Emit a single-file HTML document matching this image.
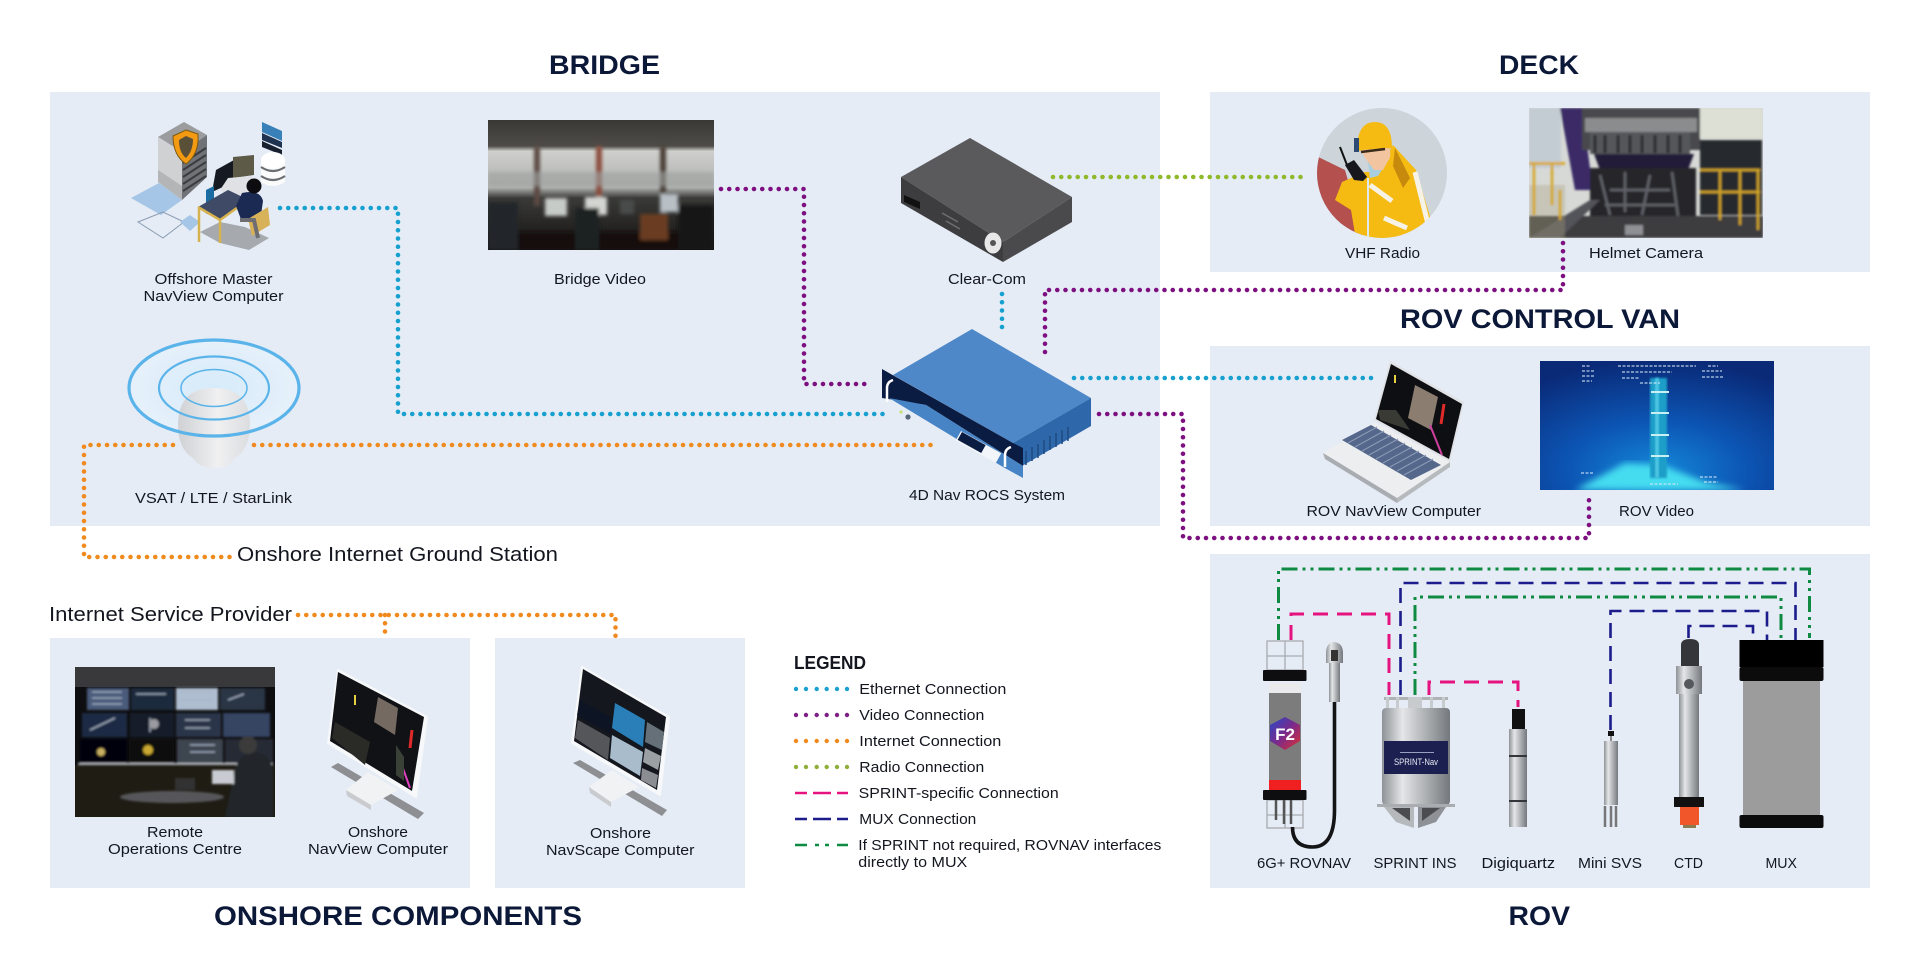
<!DOCTYPE html>
<html><head><meta charset="utf-8"><style>
html,body{margin:0;padding:0;background:#fff;width:1920px;height:980px;overflow:hidden}
svg{display:block}
text{font-family:"Liberation Sans",sans-serif;fill:#14161f}
.l{font-size:15px}
.t{font-size:27px;font-weight:700;fill:#0c1838}
.b{font-size:20px}
.d{fill:none;stroke-linecap:round;stroke-width:4.6;stroke-dasharray:0 8.25;stroke-linejoin:round}
.e{stroke:#16a0cf}.v{stroke:#7d0f80}.i{stroke:#f08a1e}.r{stroke:#8fb92b}
.m{fill:none;stroke:#e5137f;stroke-width:3;stroke-dasharray:15 9}
.n{fill:none;stroke:#1c1c8c;stroke-width:2.6;stroke-dasharray:15 8}
.h{fill:none;stroke:#0f8a43;stroke-width:3;stroke-dasharray:16 5 3 5 3 5}
</style></head><body>
<svg width="1920" height="980" viewBox="0 0 1920 980" xmlns="http://www.w3.org/2000/svg">
<defs>
<filter id="b1" x="-5%" y="-5%" width="110%" height="110%"><feGaussianBlur stdDeviation="1"/></filter>
<filter id="b2" x="-5%" y="-5%" width="110%" height="110%"><feGaussianBlur stdDeviation="1.8"/></filter>
<filter id="b3" x="-10%" y="-10%" width="120%" height="120%"><feGaussianBlur stdDeviation="3.5"/></filter>
<linearGradient id="metal" x1="0" x2="1" y1="0" y2="0"><stop offset="0" stop-color="#8e9296"/><stop offset=".3" stop-color="#e4e6e8"/><stop offset=".6" stop-color="#b4b7ba"/><stop offset="1" stop-color="#74787c"/></linearGradient>
<linearGradient id="dome" x1="0" x2="1" y1="0" y2="0"><stop offset="0" stop-color="#cfd1d4"/><stop offset=".55" stop-color="#f0f0f1"/><stop offset="1" stop-color="#dcdde0"/></linearGradient>
<linearGradient id="f2" x1="0" x2="1" y1="0" y2="1"><stop offset="0" stop-color="#2749c8"/><stop offset=".5" stop-color="#7a2a8c"/><stop offset="1" stop-color="#e0302e"/></linearGradient>
<radialGradient id="sea" cx=".5" cy=".85" r=".85"><stop offset="0" stop-color="#1488d8"/><stop offset=".45" stop-color="#0c55b4"/><stop offset="1" stop-color="#0a2a78"/></radialGradient>
<radialGradient id="glow" cx=".5" cy=".5" r=".5"><stop offset="0" stop-color="#d6ebfa"/><stop offset="1" stop-color="#e6f0fa"/></radialGradient>
<linearGradient id="bridgebg" x1="0" x2="0" y1="0" y2="1"><stop offset="0" stop-color="#3a3835"/><stop offset=".2" stop-color="#4e4c48"/><stop offset=".24" stop-color="#cfd0cd"/><stop offset=".52" stop-color="#aeb0ad"/><stop offset=".6" stop-color="#3a3a38"/><stop offset="1" stop-color="#141212"/></linearGradient>
<clipPath id="vhf"><circle cx="1382" cy="173" r="65"/></clipPath>
<clipPath id="pb"><rect x="488" y="120" width="226" height="130"/></clipPath>
<clipPath id="ph"><rect x="1529" y="108" width="234" height="130"/></clipPath>
<clipPath id="pr"><rect x="1540" y="361" width="234" height="129"/></clipPath>
<clipPath id="po"><rect x="75" y="667" width="200" height="150"/></clipPath>
</defs>

<!-- panels -->
<g fill="#e5ecf6">
<rect x="50" y="92" width="1110" height="434"/>
<rect x="1210" y="92" width="660" height="180"/>
<rect x="1210" y="346" width="660" height="180"/>
<rect x="1210" y="554" width="660" height="334"/>
<rect x="50" y="638" width="420" height="250"/>
<rect x="495" y="638" width="250" height="250"/>
</g>

<!-- server illustration -->
<g>
<polygon points="131,198 159,183 182,200 161,215" fill="#a5c6e6"/>
<polygon points="138,222 163,212 184,222 163,238" fill="none" stroke="#8a9bb0" stroke-width="1"/>
<polygon points="180,222 190,215 200,222 190,231" fill="#a5c6e6"/>
<polygon points="200,232 220,222 245,227 269,238 249,250 220,243" fill="#a6aaaf"/>
<polygon points="158,137 184,122 207,135 182,152" fill="#9a9c9e"/>
<polygon points="158,137 182,152 182,200 158,182" fill="#cfd1d3"/>
<polygon points="182,152 207,135 207,177 182,200" fill="#6f7276"/>
<path d="M183 163l23-15M183 170l23-15M183 177l23-15M183 184l23-15M183 191l23-15" stroke="#3a3c40" stroke-width="2"/>
<polygon points="158,170 182,186 182,200 158,182" fill="#b3b5b7"/>
<path d="M186 130l12 4c1 14-4 24-12 30c-9-6-13-16-13-28z" fill="#f29a12" stroke="#7d5a10" stroke-width="1"/>
<path d="M186 136l7 3c0 9-3 15-7 19c-5-4-7-10-7-18z" fill="#5a5038"/>
<polygon points="262,122 282,131 282,141 262,132" fill="#3a80b8"/>
<polygon points="262,133 282,142 282,148 262,140" fill="#1f3350"/>
<polygon points="262,141 282,150 282,155 262,147" fill="#16202f"/>
<path d="M261 160v22q12 8 24 0v-22z" fill="#fbfbfc"/><ellipse cx="273" cy="160" rx="12" ry="8" fill="#fff"/>
<path d="M261 167q12 8 24 0M261 176q12 8 24 0" stroke="#6a6d72" stroke-width="2.2" fill="none"/>
<polygon points="216,170 234,160 234,182 212,192" fill="#151a22"/>
<polygon points="233,157 254,155 254,175 233,178" fill="#5d5a48"/>
<polygon points="220,190 228,178 252,176 250,190 232,198" fill="#dfe1e5"/>
<polygon points="206,190 214,186 214,210 206,214" fill="#1c6ca4"/>
<polygon points="198,207 228,190 249,200 220,220" fill="#3e4a66"/>
<path d="M199 208v34M220 221v22M198 207l22 13l28-20" stroke="#d6b24e" stroke-width="2.5" fill="none"/>
<path d="M242 193q18-4 21 8l-3 21l-18 0l-6-16z" fill="#1b2a52"/>
<circle cx="254" cy="186" r="7.5" fill="#0d0d10"/>
<polygon points="248,219 268,207 270,225 252,236" fill="#d8b258"/>
<path d="M240 220h14l4 18" stroke="#6e6e72" stroke-width="4" fill="none"/>
</g>

<!-- bridge video -->
<g clip-path="url(#pb)">
<rect x="488" y="120" width="226" height="130" fill="url(#bridgebg)"/>
<g filter="url(#b2)">
<rect x="534" y="146" width="6" height="60" fill="#5b4a42"/><rect x="596" y="146" width="6" height="66" fill="#8b4d3d"/>
<rect x="660" y="146" width="6" height="70" fill="#4a3e36"/>
<rect x="488" y="172" width="226" height="14" fill="#9ea2a0" opacity=".6"/>
<rect x="488" y="232" width="226" height="18" fill="#121010"/>
<rect x="545" y="198" width="22" height="18" fill="#c7cbc7"/><rect x="585" y="197" width="22" height="18" fill="#d4d6d2"/><rect x="660" y="194" width="18" height="18" fill="#b8c0c6"/>
<rect x="620" y="200" width="14" height="14" fill="#4a4c4c"/>
<rect x="488" y="202" width="30" height="48" fill="#24262a"/><rect x="575" y="208" width="24" height="42" fill="#1e2024"/>
<rect x="640" y="214" width="28" height="26" fill="#6a3e22"/><rect x="678" y="205" width="36" height="45" fill="#141518"/>
</g>
</g>

<!-- clear-com -->
<polygon points="901,177 970,138 1072,197 1003,242" fill="#5a5a5c"/>
<polygon points="901,177 1003,242 1003,262 901,203" fill="#3d3d3f"/>
<polygon points="1003,242 1072,197 1072,222 1003,262" fill="#4a4a4c"/>
<polygon points="904,195 920,202 920,209 904,202" fill="#111"/>
<path d="M942 213l16 9M946 221l14 8" stroke="#6f6f70" stroke-width="1.5"/>
<ellipse cx="993" cy="243" rx="8.5" ry="10.5" fill="#e8e8e8"/><circle cx="993" cy="243" r="3" fill="#555"/>

<!-- 4D Nav -->
<polygon points="972,329 1091,398 1013,443 893,375" fill="#4e88c9"/>
<polygon points="1091,398 1091,426 1022,466 1013,443" fill="#2f68aa"/>
<polygon points="882,369 1013,443 1023,448 1023,466 926,405 882,398" fill="#0b1c42"/>
<polygon points="889,398 926,405 1023,466 1023,478 1003,467" fill="#4784c6"/>
<path d="M1026 451v14M1032 447v14M1038 444v14M1044 440v14M1050 436v14M1056 433v14M1062 430v14M1068 427v14" stroke="#1e4a82" stroke-width="1.5"/>
<rect x="961" y="431" width="46" height="11" transform="rotate(29 961 431)" fill="#f2f5fa"/>
<rect x="962" y="432" width="27" height="9" transform="rotate(29 962 432)" fill="#0b1c42"/>
<path d="M893 380q-6 2-6 8v14M1011 447q-6 2-6 8v12" stroke="#fff" stroke-width="2.5" fill="none"/>
<circle cx="901" cy="412" r="1.6" fill="#c8e070"/><circle cx="908" cy="417" r="2.6" fill="#567"/>

<!-- antenna -->
<ellipse cx="214" cy="388" rx="85" ry="48" fill="url(#glow)"/>
<path d="M178 425q0-37 36-37q36 0 36 37q0 24-15 33q-6 10-21 10q-15 0-21-10q-15-9-15-33z" fill="url(#dome)"/>
<g fill="none" stroke="#5ab4ea">
<ellipse cx="214" cy="388" rx="85" ry="48" stroke-width="3.2"/>
<ellipse cx="214" cy="388" rx="55" ry="31.5" stroke-width="2.2"/>
<ellipse cx="214" cy="388" rx="33" ry="18.5" stroke-width="1.5"/>
</g>

<!-- VHF -->
<circle cx="1382" cy="173" r="65" fill="#cdd5da"/>
<g clip-path="url(#vhf)">
<polygon points="1310,153 1345,170 1365,240 1310,240" fill="#b4504e"/>
<polygon points="1342,182 1365,172 1378,172 1393,145 1416,170 1432,223 1422,240 1356,240 1351,210 1335,200" fill="#f5bb13"/>
<path d="M1368 178v62" stroke="#dfe8f0" stroke-width="2"/>
<path d="M1370 185l22 16M1384 218l23 10M1415 172l13 52" stroke="#f6f3e6" stroke-width="5" fill="none"/>
<polygon points="1368,162 1380,160 1388,160 1378,176 1370,178" fill="#a8cfe0"/>
<path d="M1395 148l15 30l-7 10l-10-22z" fill="#c78a0c"/>
</g>
<path d="M1357 150q0-28 18-28q17 0 17 26l-3 1l-30 2z" fill="#f5bb13"/>
<path d="M1361 150l28-2q3 8-1 13l-5 9h-9l-9-12z" fill="#f3c4a0"/>
<rect x="1354" y="138" width="5" height="14" fill="#2c4a74"/>
<path d="M1361 152l24-3" stroke="#3a2a1a" stroke-width="2.5"/>
<path d="M1340 147l7 18" stroke="#111" stroke-width="2"/>
<polygon points="1345,165 1354,160 1367,177 1363,181 1354,180" fill="#15171c"/>

<!-- helmet camera -->
<g clip-path="url(#ph)">
<rect x="1529" y="108" width="234" height="130" fill="#d7d9d6"/>
<g filter="url(#b1)">
<rect x="1529" y="108" width="32" height="60" fill="#c3ccd2"/>
<polygon points="1560,108 1582,108 1593,190 1575,190" fill="#3a2a66"/>
<rect x="1582" y="108" width="118" height="42" fill="#4a4a4e"/>
<rect x="1585" y="118" width="112" height="14" fill="#8a8c8e"/>
<rect x="1590" y="132" width="100" height="22" fill="#55565a"/>
<path d="M1595 135v18M1605 135v18M1618 135v18M1630 135v18M1642 135v18M1655 135v18M1668 135v18M1680 135v18" stroke="#2a2b2e" stroke-width="3"/>
<polygon points="1594,154 1694,154 1688,170 1600,170" fill="#211d38"/>
<rect x="1590" y="168" width="106" height="54" fill="#26262c"/>
<path d="M1600 175l10 40M1625 172v40M1650 175l-8 40M1672 172l6 44M1610 190h60M1605 205h70" stroke="#62646a" stroke-width="2.5" fill="none"/>
<rect x="1700" y="108" width="62" height="30" fill="#dde0d4"/>
<rect x="1700" y="140" width="62" height="75" fill="#282a2e"/>
<rect x="1529" y="216" width="234" height="22" fill="#3c3c40"/>
<polygon points="1529,238 1560,238 1600,200 1590,200" fill="#52525a"/>
<rect x="1529" y="162" width="36" height="3" fill="#d8a92a"/><rect x="1529" y="185" width="36" height="60" fill="#a9a07a" opacity=".35"/>
<path d="M1534 165v50M1552 165v40M1560 190v30" stroke="#d5a525" stroke-width="2.5"/>
<path d="M1700 170h60M1700 192h60M1720 170v50M1740 170v55M1758 170v60" stroke="#d0a426" stroke-width="2.5" fill="none"/>
<rect x="1625" y="225" width="18" height="10" fill="#8f9094"/>
</g>
</g>

<!-- laptop -->
<polygon points="1323,453 1374,422 1450,462 1397,498" fill="#eceef0"/>
<polygon points="1323,453 1397,498 1397,503 1325,459" fill="#a9adb1"/>
<polygon points="1397,498 1450,462 1450,467 1397,503" fill="#b7babd"/>
<polygon points="1342,440 1371,425 1441,465 1411,480" fill="#55678a"/>
<path d="M1348 443l29-16M1355 447l29-16M1362 451l29-16M1369 455l29-16M1376 459l29-16M1383 463l29-16M1390 467l29-16M1397 471l29-16M1404 475l29-16" stroke="#8c9cb8" stroke-width="1"/>
<polygon points="1390,361 1464,402 1450,462 1374,420" fill="#e0e2e5"/>
<polygon points="1391,364 1462,404 1449,459 1376,419" fill="#0e0f12"/>
<polygon points="1415,385 1438,397 1431,430 1408,418" fill="#8b7d70"/>
<polygon points="1378,410 1396,410 1410,430 1380,420" fill="#3a3a34"/>
<path d="M1444 404l-3 20" stroke="#e02a2a" stroke-width="3"/><path d="M1430 425l12 30" stroke="#d040a0" stroke-width="2"/>
<path d="M1395 375v8" stroke="#e7d040" stroke-width="2"/>

<!-- rov video -->
<g clip-path="url(#pr)">
<rect x="1540" y="361" width="234" height="129" fill="url(#sea)"/>
<polygon points="1575,490 1625,463 1662,465 1705,482 1745,490" fill="#45dcf0" filter="url(#b3)"/>
<rect x="1650" y="378" width="17" height="100" fill="#1f9ec8" filter="url(#b1)"/>
<rect x="1655" y="378" width="4" height="100" fill="#4fc6e4" filter="url(#b1)"/>
<g fill="#c8f0f4"><rect x="1651" y="391" width="18" height="2"/><rect x="1651" y="412" width="18" height="2"/><rect x="1651" y="434" width="18" height="2"/><rect x="1651" y="455" width="18" height="2"/></g>
<g stroke="#d5e8f8" stroke-width="1.2" stroke-dasharray="3 1.5" opacity=".85">
<path d="M1582 366h8M1582 371h12M1582 376h12M1582 381h10M1618 366h78M1622 372h50M1622 378h18M1640 383h20M1708 366h10M1702 371h20M1702 377h22M1581 473h13M1700 477h18M1704 482h14M1650 484h28"/>
</g>
</g>

<!-- remote ops -->
<g clip-path="url(#po)">
<rect x="75" y="667" width="200" height="150" fill="#0e0e10"/>
<rect x="75" y="667" width="200" height="20" fill="#39393b"/>
<rect x="75" y="765" width="200" height="52" fill="#1f1c14"/>
<g filter="url(#b1)">
<rect x="87" y="688" width="42" height="22" fill="#4a5a7a"/><rect x="131" y="688" width="43" height="22" fill="#1a2a3e"/><rect x="176" y="688" width="42" height="22" fill="#aebdd0"/><rect x="220" y="688" width="45" height="22" fill="#2c3444"/>
<rect x="82" y="713" width="45" height="24" fill="#1e2c44"/><rect x="130" y="713" width="44" height="24" fill="#141c2c"/><rect x="176" y="713" width="45" height="24" fill="#2a3548"/><rect x="223" y="713" width="47" height="24" fill="#364562"/>
<rect x="80" y="739" width="47" height="24" fill="#06060a"/><rect x="129" y="739" width="45" height="24" fill="#0a0a0c"/><rect x="177" y="739" width="46" height="24" fill="#3c4450"/><rect x="225" y="739" width="48" height="24" fill="#262c34"/>
<rect x="78" y="763" width="195" height="2" fill="#b8bcc0"/>
<path d="M92 692h30M92 698h30M92 704h30M180 692h32M180 700h32M136 694h30M228 700l16-6M90 730l25-12M150 718v14M185 720h25M185 728h25M190 745h25M190 752h25" stroke="#a8b4c6" stroke-width="1.3" fill="none"/>
<circle cx="101" cy="752" r="4" fill="#c8b060"/><circle cx="148" cy="750" r="5" fill="#c8a830"/><circle cx="154" cy="724" r="5" fill="#9a9aa0"/>
<ellipse cx="172" cy="797" rx="52" ry="6" fill="#57565a"/>
<path d="M225 817l10-45q3-20 20-20q18 2 18 22v43z" fill="#22262c"/>
<circle cx="248" cy="745" r="9" fill="#3a3a3a"/>
<rect x="212" y="770" width="22" height="14" fill="#c8ccd2"/>
<rect x="175" y="778" width="20" height="12" fill="#333"/>
</g>
</g>

<!-- onshore monitors -->
<polygon points="331,767 338,763 424,813 418,819" fill="#8d8f92"/>
<polygon points="346,790 368,772 398,790 371,805" fill="#f1f2f3"/>
<polygon points="346,790 371,805 371,810 347,796" fill="#c9cbce"/>
<polygon points="338,670 427,717 416,797 328,743" fill="#f7f8f9" stroke="#f7f8f9" stroke-width="2" stroke-linejoin="round"/>
<polygon points="338,672 424,717 412,791 330,741" fill="#101216"/>
<polygon points="378,697 398,708 395,735 374,722" fill="#756a62"/>
<polygon points="335,722 370,742 365,765 332,738" fill="#2a2a26"/>
<path d="M412 730l-2 18" stroke="#e02a2a" stroke-width="3"/><path d="M400 760l10 28" stroke="#e040c0" stroke-width="2"/>
<path d="M396 745l8 12v24l-8-6z" fill="#3a4238"/>
<path d="M355 695v10" stroke="#e7d040" stroke-width="2"/>

<polygon points="573,763 580,760 667,810 662,816" fill="#8d8f92"/>
<polygon points="589,787 612,770 639,787 611,802" fill="#f1f2f3"/>
<polygon points="589,787 611,802 611,807 590,793" fill="#c9cbce"/>
<polygon points="582,667 669,717 660,795 572,743" fill="#f7f8f9" stroke="#f7f8f9" stroke-width="2" stroke-linejoin="round"/>
<polygon points="583,669 666,717 657,790 574,741" fill="#14171e"/>
<polygon points="615,703 645,720 643,747 612,728" fill="#2a7fb8"/>
<polygon points="580,700 612,718 610,733 577,715" fill="#0d1424"/>
<polygon points="578,720 610,738 608,760 575,738" fill="#55565a"/>
<polygon points="612,735 643,752 640,776 610,758" fill="#a8bccc"/>
<polygon points="647,722 664,732 662,750 645,742" fill="#667078"/>
<polygon points="645,748 661,756 658,770 643,762" fill="#9aa0a4"/>
<polygon points="642,768 658,775 656,788 641,780" fill="#8a8e92"/>

<!-- ROV devices -->
<g fill="none" stroke="#a8abb0" stroke-width="1.3">
<rect x="1267" y="641" width="36" height="29"/><path d="M1285 641v29M1267 656h36"/>
<rect x="1267" y="800" width="36" height="28"/><path d="M1285 800v28M1267 815h36"/>
</g>
<rect x="1263" y="670" width="43.5" height="11" rx="1" fill="#0e0e10"/>
<rect x="1269" y="683" width="32" height="10" fill="#eaeaec"/>
<rect x="1269" y="693" width="32" height="87" fill="#7c7c7c"/>
<rect x="1269" y="780" width="32" height="10" fill="#f02020"/>
<rect x="1263" y="790" width="43.5" height="10" rx="1" fill="#0e0e10"/>
<path d="M1276 800v20M1284 800v24M1291 800v24" stroke="#555" stroke-width="2.5"/>
<polygon points="1285,717 1300,725 1300,741 1285,750 1270,741 1270,725" fill="url(#f2)"/>
<text x="1285" y="740" text-anchor="middle" font-size="17" font-weight="700" style="fill:#fff">F2</text>
<path d="M1334.5 702V810q0 37-22 37q-20 0-20-20" fill="none" stroke="#141416" stroke-width="3.6"/>
<path d="M1326 663l0-10q0-10 8-11q9 1 9 11l0 10z" fill="url(#metal)"/>
<rect x="1331" y="650" width="7" height="11" fill="#333"/>
<rect x="1329" y="663" width="11" height="39" fill="url(#metal)"/>

<rect x="1384" y="697" width="64" height="3" fill="#b0b3b6"/>
<g fill="#c8cbce"><rect x="1386" y="697" width="3" height="12"/><rect x="1396" y="697" width="3" height="12"/><rect x="1408" y="697" width="14" height="12"/><rect x="1430" y="697" width="3" height="12"/><rect x="1442" y="697" width="3" height="12"/></g>
<rect x="1382" y="708" width="68" height="97" rx="4" fill="url(#metal)"/>
<rect x="1384" y="741" width="64" height="33" fill="#1b2050"/>
<text x="1416" y="765" text-anchor="middle" font-size="9" style="fill:#e8eaf4" textLength="44" lengthAdjust="spacingAndGlyphs">SPRINT-Nav</text>
<rect x="1400" y="752" width="34" height="1" fill="#9aa0c0"/>
<rect x="1377" y="804" width="78" height="3" fill="#a9acb0"/>
<polygon points="1384,807 1414,807 1414,828 1396,822" fill="#b6b9bc"/>
<polygon points="1418,807 1446,807 1436,822 1418,828" fill="#8e9195"/>
<polygon points="1392,808 1410,808 1410,821" fill="#4a4c50"/><polygon points="1422,808 1440,808 1422,821" fill="#4a4c50"/>

<rect x="1512" y="709" width="13" height="20" fill="#111"/>
<rect x="1509" y="729" width="18" height="98" fill="url(#metal)"/>
<rect x="1509" y="755" width="18" height="2" fill="#33353a"/><rect x="1509" y="800" width="18" height="2" fill="#33353a"/>

<rect x="1608" y="731" width="6" height="5" fill="#111"/>
<rect x="1610" y="736" width="2" height="5" fill="#888"/>
<rect x="1604" y="741" width="14" height="64" fill="url(#metal)"/>
<path d="M1605 806v21M1611 806v21M1616 806v21" stroke="#777" stroke-width="2.5"/>

<path d="M1681 645q0-6 9-6q9 0 9 6v21h-18z" fill="#34363a"/>
<rect x="1676" y="666" width="26" height="28" fill="url(#metal)"/>
<rect x="1679" y="694" width="20" height="103" fill="url(#metal)"/>
<circle cx="1689" cy="684" r="5" fill="#55585c"/>
<rect x="1674" y="797" width="30" height="10" fill="#111"/>
<rect x="1680" y="807" width="19" height="18" fill="#f0562a"/>
<rect x="1683" y="825" width="13" height="3" fill="#8a7a50"/>

<rect x="1743" y="681" width="77" height="134" fill="#9c9c9c"/>
<rect x="1739.5" y="640" width="84" height="27" fill="#000"/>
<rect x="1739.5" y="667" width="84" height="14" rx="2" fill="#0c0c0c"/>
<rect x="1739.5" y="815" width="84" height="13" rx="2" fill="#0c0c0c"/>

<!-- dotted connectors -->
<path class="d e" d="M280 208H398V414H885"/>
<path class="d v" d="M721 189H804V384H871"/>
<path class="d r" d="M1053 177H1308"/>
<path class="d v" d="M1563 243V290H1045V357"/>
<path class="d e" d="M1002 294V335"/>
<path class="d e" d="M1074 378H1377"/>
<path class="d v" d="M1099 414H1183V538H1589V498"/>
<path class="d i" d="M173 445H84V557H233"/>
<path class="d i" d="M254 445H937"/>
<path class="d i" d="M298 615H615.5V638"/>
<path class="d i" d="M385 615V638"/>

<!-- ROV connectors -->
<path class="h" d="M1278.5 640V569H1809.5V638"/>
<path class="m" d="M1291 640V614H1389V695"/>
<path class="n" d="M1400.5 695V583H1795.5V640"/>
<path class="h" d="M1415 695V597H1781V640"/>
<path class="n" d="M1610.5 730V611H1767V640"/>
<path class="n" d="M1688.5 638V626H1753V640"/>
<path class="m" d="M1429 695V682H1518V707"/>

<!-- titles -->
<text class="t" x="549" y="74" textLength="111" lengthAdjust="spacingAndGlyphs">BRIDGE</text>
<text class="t" x="1499" y="74" textLength="80" lengthAdjust="spacingAndGlyphs">DECK</text>
<text class="t" x="1400" y="328" textLength="280" lengthAdjust="spacingAndGlyphs">ROV CONTROL VAN</text>
<text class="t" x="214" y="925" textLength="368" lengthAdjust="spacingAndGlyphs">ONSHORE COMPONENTS</text>
<text class="t" x="1508.5" y="925" textLength="61.5" lengthAdjust="spacingAndGlyphs">ROV</text>

<!-- labels -->
<g>
<text class="l" x="154.5" y="284" textLength="118" lengthAdjust="spacingAndGlyphs">Offshore Master</text>
<text class="l" x="143.5" y="301" textLength="140" lengthAdjust="spacingAndGlyphs">NavView Computer</text>
<text class="l" x="554" y="284" textLength="92" lengthAdjust="spacingAndGlyphs">Bridge Video</text>
<text class="l" x="948" y="284" textLength="78" lengthAdjust="spacingAndGlyphs">Clear-Com</text>
<text class="l" x="1345" y="258" textLength="75" lengthAdjust="spacingAndGlyphs">VHF Radio</text>
<text class="l" x="1589" y="258" textLength="114" lengthAdjust="spacingAndGlyphs">Helmet Camera</text>
<text class="l" x="135" y="503" textLength="157" lengthAdjust="spacingAndGlyphs">VSAT / LTE / StarLink</text>
<text class="l" x="909" y="500" textLength="156" lengthAdjust="spacingAndGlyphs">4D Nav ROCS System</text>
<text class="l" x="1306.5" y="516" textLength="174.5" lengthAdjust="spacingAndGlyphs">ROV NavView Computer</text>
<text class="l" x="1619" y="516" textLength="75" lengthAdjust="spacingAndGlyphs">ROV Video</text>
<text class="l" x="147" y="837" textLength="56" lengthAdjust="spacingAndGlyphs">Remote</text>
<text class="l" x="108" y="854" textLength="134" lengthAdjust="spacingAndGlyphs">Operations Centre</text>
<text class="l" x="348" y="837" textLength="60" lengthAdjust="spacingAndGlyphs">Onshore</text>
<text class="l" x="308" y="854" textLength="140" lengthAdjust="spacingAndGlyphs">NavView Computer</text>
<text class="l" x="590" y="838" textLength="61" lengthAdjust="spacingAndGlyphs">Onshore</text>
<text class="l" x="546" y="855" textLength="148.5" lengthAdjust="spacingAndGlyphs">NavScape Computer</text>
<text class="l" x="1257" y="868" textLength="94" lengthAdjust="spacingAndGlyphs">6G+ ROVNAV</text>
<text class="l" x="1373.5" y="868" textLength="83" lengthAdjust="spacingAndGlyphs">SPRINT INS</text>
<text class="l" x="1481.5" y="868" textLength="73.5" lengthAdjust="spacingAndGlyphs">Digiquartz</text>
<text class="l" x="1578" y="868" textLength="64" lengthAdjust="spacingAndGlyphs">Mini SVS</text>
<text class="l" x="1674" y="868" textLength="29" lengthAdjust="spacingAndGlyphs">CTD</text>
<text class="l" x="1765.5" y="868" textLength="31.5" lengthAdjust="spacingAndGlyphs">MUX</text>
</g>
<text class="b" x="237" y="561" textLength="321" lengthAdjust="spacingAndGlyphs">Onshore Internet Ground Station</text>
<text class="b" x="49" y="621" textLength="243" lengthAdjust="spacingAndGlyphs">Internet Service Provider</text>

<!-- legend -->
<text x="794" y="669" font-size="18" font-weight="700" textLength="72" lengthAdjust="spacingAndGlyphs">LEGEND</text>
<g fill="#1a9fd0"><circle cx="796" cy="689" r="2.2"/><circle cx="806" cy="689" r="2.2"/><circle cx="816.7" cy="689" r="2.2"/><circle cx="826.7" cy="689" r="2.2"/><circle cx="837" cy="689" r="2.2"/><circle cx="847" cy="689" r="2.2"/></g>
<g fill="#7d1f85"><circle cx="796" cy="715" r="2.2"/><circle cx="806" cy="715" r="2.2"/><circle cx="816.7" cy="715" r="2.2"/><circle cx="826.7" cy="715" r="2.2"/><circle cx="837" cy="715" r="2.2"/><circle cx="847" cy="715" r="2.2"/></g>
<g fill="#f08a1e"><circle cx="796" cy="741" r="2.2"/><circle cx="806" cy="741" r="2.2"/><circle cx="816.7" cy="741" r="2.2"/><circle cx="826.7" cy="741" r="2.2"/><circle cx="837" cy="741" r="2.2"/><circle cx="847" cy="741" r="2.2"/></g>
<g fill="#8fae3a"><circle cx="796" cy="767" r="2.2"/><circle cx="806" cy="767" r="2.2"/><circle cx="816.7" cy="767" r="2.2"/><circle cx="826.7" cy="767" r="2.2"/><circle cx="837" cy="767" r="2.2"/><circle cx="847" cy="767" r="2.2"/></g>
<path d="M795 793h12M813 793h18M837 793h11" stroke="#e5137f" stroke-width="2.6"/>
<path d="M795 819h12M813 819h18M837 819h11" stroke="#1c1c8c" stroke-width="2.6"/>
<path d="M795 845h12M815 845h4M825 845h4M837 845h11" stroke="#0f8a43" stroke-width="2.6"/>
<g font-size="15">
<text x="859.3" y="694" textLength="147" lengthAdjust="spacingAndGlyphs">Ethernet Connection</text>
<text x="859.3" y="720" textLength="125" lengthAdjust="spacingAndGlyphs">Video Connection</text>
<text x="859.3" y="746" textLength="142" lengthAdjust="spacingAndGlyphs">Internet Connection</text>
<text x="859.3" y="772" textLength="125" lengthAdjust="spacingAndGlyphs">Radio Connection</text>
<text x="858.7" y="798" textLength="200" lengthAdjust="spacingAndGlyphs">SPRINT-specific Connection</text>
<text x="859.3" y="824" textLength="117" lengthAdjust="spacingAndGlyphs">MUX Connection</text>
<text x="858.3" y="850" textLength="303" lengthAdjust="spacingAndGlyphs">If SPRINT not required, ROVNAV interfaces</text>
<text x="858.3" y="867" textLength="109" lengthAdjust="spacingAndGlyphs">directly to MUX</text>
</g>
</svg>
</body></html>
